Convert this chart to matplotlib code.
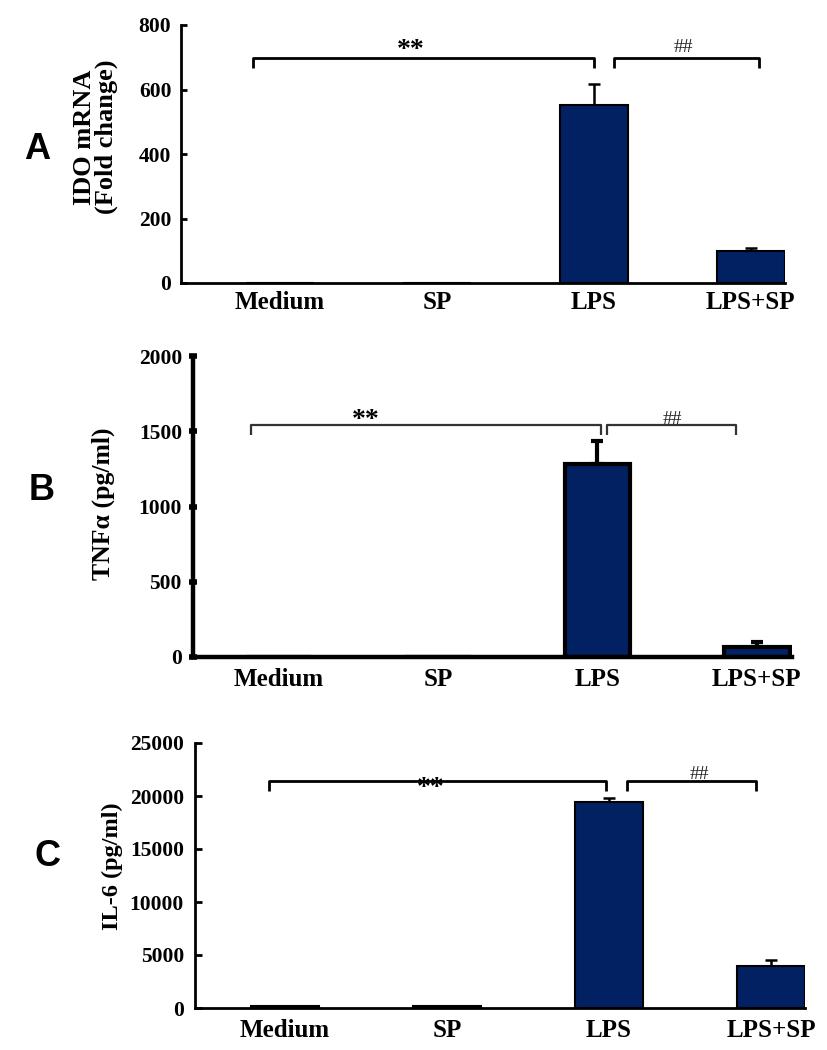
import matplotlib
matplotlib.use("Agg")
import matplotlib.pyplot as plt
import numpy as np

# ---- data ----
groups = ["Medium", "SP", "LPS", "LPS+SP"]

ido_values = [0, 0, 552, 99]
ido_errors = [0, 0, 66, 9]
ido_ticks = [0, 200, 400, 600, 800]

tnf_values = [0, 0, 1282, 66]
tnf_errors = [0, 0, 153, 34]
tnf_ticks = [0, 500, 1000, 1500, 2000]

il6_values = [210, 180, 19450, 3950]
il6_errors = [0, 0, 400, 600]
il6_ticks = [0, 5000, 10000, 15000, 20000, 25000]

panel_letters = ["A", "B", "C"]
ylabels = ["IDO mRNA\n(Fold change)", "TNF\u03b1 (pg/ml)", "IL-6 (pg/ml)"]
sig_left = "**"
sig_right = "##"

# ---- style ----
W, H = 828, 1050
BAR = "#022162"
SERIF = "Liberation Serif"
SANS = "Liberation Sans"

fig = plt.figure(figsize=(W / 100, H / 100), dpi=100)


def px_axes(x0, x1, ytop, ybot):
    return fig.add_axes([x0 / W, 1 - ybot / H, (x1 - x0) / W, (ybot - ytop) / H])


panels = [
    dict(box=(181, 785, 25, 283), vals=ido_values, errs=ido_errors, ticks=ido_ticks,
         xlim=(-0.63, 3.217), width=0.433, lw_sp=2.0, lw_bar=1.5, tickdir="in",
         ticklen=4, tickw=2.0, lab_xy=(-0.104, 0.566), lab_fs=19, letter_xy=(37, 150),
         br_l=(-0.17, 2.0), br_r=(2.13, 3.05), br_y=698, br_tip=667,
         st_y=702, hs_y=716, br_lw=2.0, br_col="black", st_x=0.83, hs_x=2.57,
         ypad=7, xpad=6, cap=4),
    dict(box=(193, 792, 356, 657), vals=tnf_values, errs=tnf_errors, ticks=tnf_ticks,
         xlim=(-0.536, 3.22), width=0.41, lw_sp=3.2, lw_bar=3.0, tickdir="inout",
         ticklen=6, tickw=4.0, lab_xy=(-0.130, 0.508), lab_fs=18.5, letter_xy=(42, 490),
         br_l=(-0.17, 2.02), br_r=(2.06, 2.87), br_y=1542, br_tip=1475,
         st_y=1525, hs_y=1545, br_lw=1.6, br_col="#333333", st_x=0.55, hs_x=2.47,
         ypad=5, xpad=8, cap=4),
    dict(box=(195, 805, 743, 1008), vals=il6_values, errs=il6_errors, ticks=il6_ticks,
         xlim=(-0.556, 3.21), width=0.42, lw_sp=2.0, lw_bar=1.5, tickdir="in",
         ticklen=5, tickw=2.0, lab_xy=(-0.118, 0.536), lab_fs=17.5, letter_xy=(48, 856),
         br_l=(-0.1, 1.98), br_r=(2.11, 2.91), br_y=21415, br_tip=20470,
         st_y=20100, hs_y=21650, br_lw=2.0, br_col="black", st_x=0.9, hs_x=2.56,
         ypad=8, xpad=8, cap=4),
]

for i, p in enumerate(panels):
    x0, x1, yt, yb = p["box"]
    ax = px_axes(x0, x1, yt, yb)
    x = np.arange(len(groups))
    vals = np.array(p["vals"], dtype=float)
    errs = np.array(p["errs"], dtype=float)
    ax.bar(x, vals, width=p["width"], color=BAR, edgecolor="black",
           linewidth=p["lw_bar"], zorder=2)
    has = errs > 0
    ax.errorbar(x[has], vals[has], yerr=[np.zeros(has.sum()), errs[has]],
                fmt="none", ecolor="black", elinewidth=p["lw_bar"] if i == 1 else 1.8,
                capsize=p["cap"], capthick=p["lw_bar"] if i == 1 else 1.8, zorder=1)

    ymax = p["ticks"][-1]
    ax.set_ylim(0, ymax)
    ax.set_xlim(*p["xlim"])
    ax.set_yticks(p["ticks"])
    ax.set_xticks(x)
    ax.set_xticklabels(groups, fontfamily=SERIF, fontweight="bold", fontsize=18)
    for lab in ax.get_yticklabels():
        lab.set_fontfamily(SERIF)
        lab.set_fontweight("bold")
        lab.set_fontsize(15.5)
    ax.tick_params(axis="y", direction=p["tickdir"], length=p["ticklen"],
                   width=p["tickw"], pad=p["ypad"])
    ax.tick_params(axis="x", length=0, pad=p["xpad"])
    for s in ["top", "right"]:
        ax.spines[s].set_visible(False)
    for s in ["left", "bottom"]:
        ax.spines[s].set_linewidth(p["lw_sp"])
    ax.set_ylabel(ylabels[i], fontfamily=SERIF, fontweight="bold",
                  fontsize=p["lab_fs"], linespacing=0.95)
    ax.yaxis.set_label_coords(*p["lab_xy"])

    # significance brackets
    yl, yt_ = p["br_y"], p["br_tip"]
    for (a, b) in [p["br_l"], p["br_r"]]:
        ax.plot([a, a, b, b], [yt_, yl, yl, yt_], color=p["br_col"],
                lw=p["br_lw"], solid_capstyle="butt", clip_on=False, zorder=3)
    ax.text(p["st_x"], p["st_y"], sig_left, ha="center", va="baseline",
            fontfamily=SERIF, fontweight="bold", fontsize=20, color="black", zorder=4)
    ax.text(p["hs_x"], p["hs_y"], sig_right, ha="center", va="baseline",
            fontfamily=SERIF, fontsize=14, color="#222222", zorder=4)

    lx, ly = p["letter_xy"]
    fig.text(lx / W, 1 - ly / H, panel_letters[i], ha="center", va="center",
             fontfamily=SANS, fontweight="bold", fontsize=26)

fig.savefig("out.png", dpi=100, facecolor="white")
